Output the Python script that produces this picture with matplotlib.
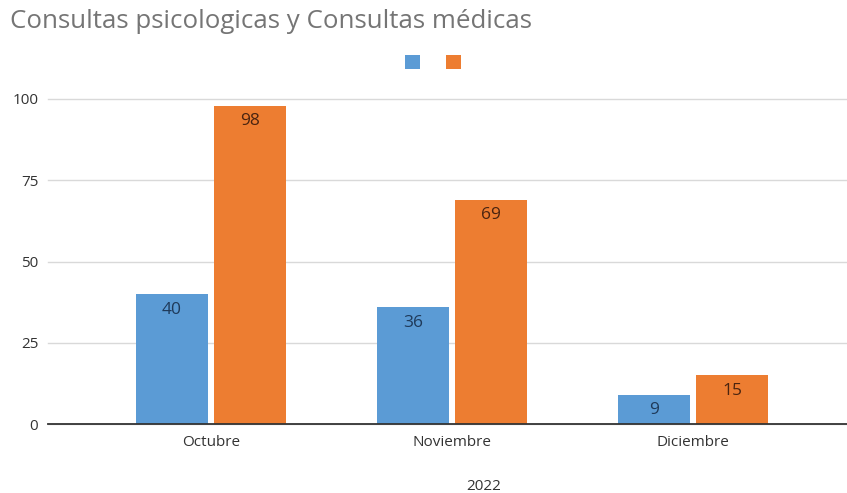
import matplotlib
matplotlib.use("Agg")
import matplotlib.pyplot as plt
from matplotlib.patches import Patch
import numpy as np

categories = ["Octubre", "Noviembre", "Diciembre"]
psicologicas = [40, 36, 9]
medicas = [98, 69, 15]
yticks = [0, 25, 50, 75, 100]
title = "Consultas psicologicas y Consultas médicas"
xlabel = "2022"

blue = "#5B9BD5"
orange = "#ED7D31"

plt.rcParams['font.family'] = ['Open Sans', 'DejaVu Sans']

fig = plt.figure(figsize=(8.47, 4.93), dpi=100)
W, H = 847, 493
ax = fig.add_axes([48 / W, (H - 424) / H, 1 - 48 / W, (424 - 99) / H])

x = np.arange(len(categories))
bw = 0.30
off = 0.162
b1 = ax.bar(x - off, psicologicas, bw, color=blue, zorder=3)
b2 = ax.bar(x + off, medicas, bw, color=orange, zorder=3)

for rect, v in zip(b1, psicologicas):
    ax.annotate(str(v), (rect.get_x() + rect.get_width() / 2, v),
                xytext=(0, -5.5), textcoords="offset points", ha="center", va="top",
                fontsize=12.5, color="#1F3A5A", zorder=4)
for rect, v in zip(b2, medicas):
    ax.annotate(str(v), (rect.get_x() + rect.get_width() / 2, v),
                xytext=(0, -5.5), textcoords="offset points", ha="center", va="top",
                fontsize=12.5, color="#4A2410", zorder=4)

ax.set_xlim((48 - 211) / 241, (847 - 211) / 241)
ax.set_ylim(0, 100)
ax.set_yticks(yticks)
ax.set_xticks(x)
ax.set_xticklabels(categories)
ax.tick_params(axis="both", length=0, labelsize=11, labelcolor="#333333")
ax.tick_params(axis="x", pad=8)
ax.tick_params(axis="y", pad=7)
ax.grid(axis="y", color="#D9D9D9", linewidth=1, zorder=0)
for s in ["top", "right", "left"]:
    ax.spines[s].set_visible(False)
ax.spines["bottom"].set_color("#333333")
ax.spines["bottom"].set_linewidth(1.3)
ax.spines["bottom"].set_zorder(5)
for gl in ax.get_ygridlines():
    gl.set_clip_on(False)

fig.text(484 / W, 1 - 486 / H, xlabel, ha="center", va="center",
         fontsize=11, color="#333333")
fig.text(10 / W, 1 - 22 / H, title, ha="left", va="center",
         fontsize=18.6, color="#757575")

handles = [Patch(facecolor=blue), Patch(facecolor=orange)]
fig.legend(handles, ["", ""], loc="center", bbox_to_anchor=(433 / W, 1 - 63 / H),
           ncol=2, frameon=False, handlelength=1.1, handleheight=1.1,
           handletextpad=0, columnspacing=1.9, fontsize=10, borderpad=0)

fig.savefig("out.png", dpi=100)
